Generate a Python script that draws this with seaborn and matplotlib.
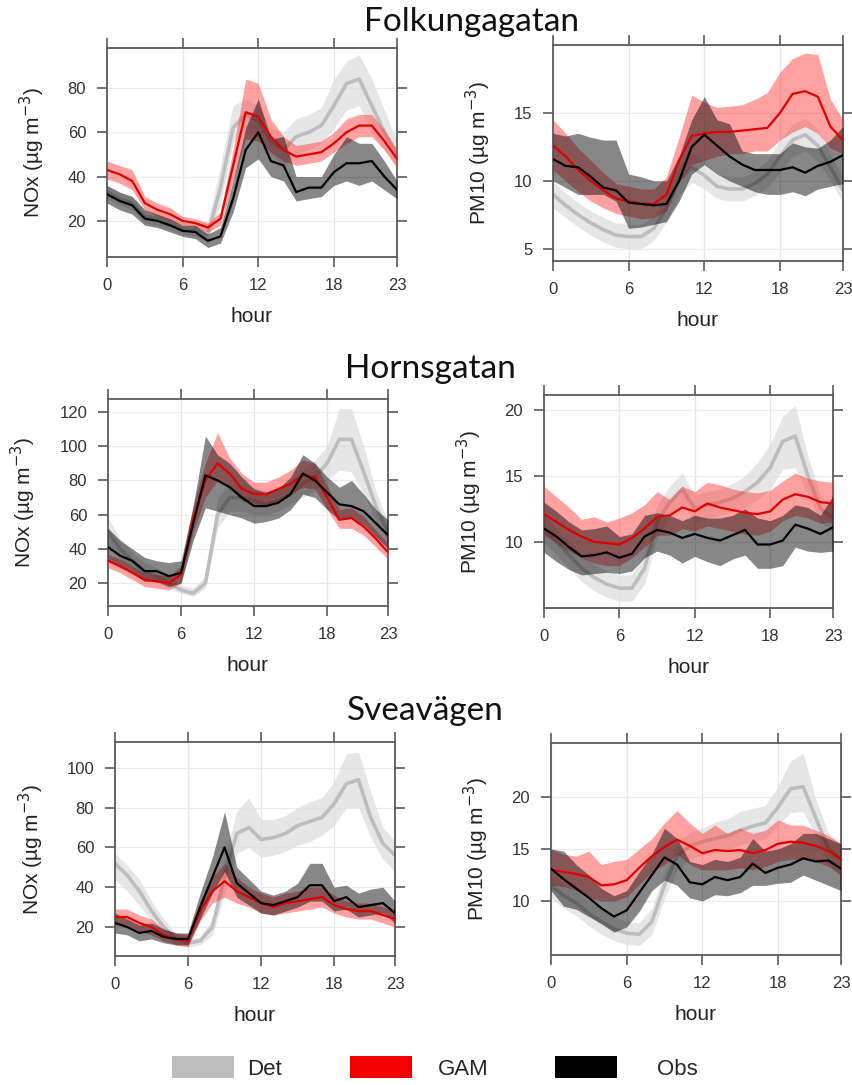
import matplotlib
matplotlib.use("Agg")
import matplotlib.pyplot as plt
from matplotlib.patches import Patch
import seaborn as sns

hours = list(range(24))
xticks = [0, 6, 12, 18, 23]

# ---------------- Folkungagatan NOx ----------------
fk_nox_obs = [32, 29, 27, 21, 20, 18, 15.5, 15, 11, 13, 30, 52, 60, 47, 45, 33, 35, 35, 42, 46, 46, 47, 40, 34]
fk_nox_obs_lo = [28, 25, 23, 18, 17, 15, 13, 12, 8, 10, 24, 44, 48, 40, 38, 29, 30, 31, 36, 38, 36, 38, 34, 30]
fk_nox_obs_hi = [36, 33, 31, 25, 23, 21, 18, 18, 14, 17, 38, 62, 75, 57, 58, 40, 40, 40, 50, 58, 55, 55, 47, 38]
fk_nox_gam = [43, 41, 38, 28, 25, 23, 20, 19, 17, 21, 45, 69, 67, 58, 52, 49, 50, 51, 55, 60, 63, 63, 56, 48]
fk_nox_gam_lo = [39, 37, 34, 25, 22, 20, 18, 17, 15, 18, 38, 57, 56, 51, 47, 45, 46, 47, 51, 55, 58, 58, 52, 44]
fk_nox_gam_hi = [47, 45, 43, 31, 28, 26, 22, 21, 19, 24, 52, 84, 82, 66, 58, 54, 55, 56, 60, 66, 68, 68, 61, 52]
fk_nox_det = [33, 30, 28, 22, 21, 19, 16.5, 16, 14, 35, 62, 68, 65, 56, 52, 58, 60, 63, 72, 82, 84, 72, 60, 50]
fk_nox_det_lo = [30, 27, 25, 19, 18, 16, 14, 13, 11, 28, 55, 62, 58, 50, 45, 50, 52, 55, 62, 70, 72, 60, 52, 44]
fk_nox_det_hi = [36, 33, 31, 25, 24, 22, 19, 19, 20, 45, 72, 75, 72, 62, 60, 66, 68, 71, 84, 92, 95, 84, 70, 56]

# ---------------- Folkungagatan PM10 ----------------
fk_pm_obs = [11.6, 11.1, 11.0, 10.3, 9.5, 9.3, 8.4, 8.3, 8.2, 8.3, 10.0, 12.5, 13.4, 12.6, 11.8, 11.2, 10.8, 10.8, 10.8, 11.0, 10.6, 11.1, 11.4, 11.9]
fk_pm_obs_lo = [10.0, 9.5, 9.0, 9.0, 9.0, 8.5, 6.5, 6.6, 6.8, 7.0, 8.5, 10.5, 11.2, 10.5, 10.0, 9.6, 9.2, 9.0, 9.0, 9.2, 8.9, 9.4, 9.6, 9.8]
fk_pm_obs_hi = [13.5, 13.3, 13.5, 13.2, 13.0, 13.0, 10.5, 10.3, 10.0, 10.0, 11.8, 14.5, 16.2, 14.5, 14.2, 12.2, 12.0, 12.0, 12.0, 12.8, 12.5, 12.4, 13.0, 14.0]
fk_pm_gam = [12.6, 11.8, 10.8, 10.0, 9.3, 8.7, 8.5, 8.3, 8.3, 9.0, 11.5, 13.3, 13.5, 13.6, 13.6, 13.7, 13.8, 13.9, 15.0, 16.4, 16.6, 16.2, 14.0, 13.0]
fk_pm_gam_lo = [10.8, 10.0, 9.2, 8.5, 8.0, 7.6, 7.4, 7.2, 7.3, 7.8, 10.0, 11.2, 11.5, 11.8, 12.0, 12.0, 12.2, 12.2, 13.0, 13.6, 14.0, 13.5, 12.4, 12.0]
fk_pm_gam_hi = [14.5, 13.5, 12.4, 11.5, 10.6, 9.8, 9.6, 9.4, 9.4, 10.3, 13.2, 16.3, 15.8, 15.4, 15.5, 15.6, 16.0, 16.5, 18.0, 19.0, 19.4, 19.3, 16.0, 14.5]
fk_pm_det = [9.0, 8.2, 7.5, 6.9, 6.4, 6.0, 5.9, 5.9, 6.5, 8.0, 10.0, 11.0, 10.4, 9.6, 9.4, 9.4, 9.8, 10.5, 11.8, 13.0, 13.4, 12.6, 11.0, 9.3]
fk_pm_det_lo = [8.0, 7.3, 6.6, 6.0, 5.5, 5.1, 5.0, 5.0, 5.6, 7.0, 8.9, 9.9, 9.4, 8.7, 8.5, 8.5, 8.9, 9.5, 10.6, 11.8, 12.2, 11.4, 10.0, 8.4]
fk_pm_det_hi = [10.0, 9.1, 8.4, 7.8, 7.3, 6.9, 6.8, 6.8, 7.4, 9.0, 11.1, 12.1, 11.4, 10.5, 10.3, 10.3, 10.7, 11.5, 13.0, 14.2, 14.6, 13.8, 12.0, 10.2]

# ---------------- Hornsgatan NOx ----------------
hg_nox_obs = [41, 36, 33, 27, 27, 24, 26, 55, 83, 80, 76, 70, 65, 65, 67, 72, 84, 80, 73, 66, 65, 62, 55, 48]
hg_nox_obs_lo = [33, 29, 26, 21, 21, 18, 20, 45, 64, 62, 60, 58, 55, 56, 58, 63, 72, 70, 63, 57, 58, 54, 47, 40]
hg_nox_obs_hi = [52, 45, 40, 35, 33, 32, 33, 65, 106, 95, 90, 82, 75, 73, 75, 82, 95, 90, 82, 76, 80, 72, 63, 57]
hg_nox_gam = [33, 30, 26, 22, 21, 20, 25, 58, 80, 90, 84, 75, 72, 72, 75, 78, 83, 82, 70, 57, 58, 53, 46, 38]
hg_nox_gam_lo = [29, 26, 22, 18, 17, 16, 20, 50, 70, 80, 76, 68, 66, 66, 68, 72, 76, 75, 63, 52, 52, 48, 41, 34]
hg_nox_gam_hi = [37, 34, 30, 26, 25, 24, 30, 66, 90, 108, 93, 84, 79, 79, 82, 86, 92, 90, 77, 63, 64, 59, 51, 43]
hg_nox_det = [50, 40, 33, 27, 24, 20, 16, 14, 20, 60, 70, 70, 68, 66, 68, 72, 78, 82, 90, 104, 104, 85, 65, 50]
hg_nox_det_lo = [42, 34, 28, 23, 20, 17, 14, 12, 17, 52, 62, 62, 60, 60, 62, 66, 70, 74, 80, 86, 85, 72, 57, 44]
hg_nox_det_hi = [58, 46, 38, 32, 29, 25, 19, 17, 24, 70, 78, 78, 76, 74, 76, 80, 86, 92, 100, 122, 122, 100, 74, 56]

# ---------------- Hornsgatan PM10 ----------------
hg_pm_obs = [11.0, 10.4, 9.6, 8.9, 9.0, 9.2, 8.8, 9.1, 10.4, 10.9, 10.7, 10.3, 10.6, 10.3, 10.1, 10.5, 10.9, 9.8, 9.8, 10.1, 11.3, 11.0, 10.6, 11.1]
hg_pm_obs_lo = [9.2, 8.5, 7.9, 7.5, 7.6, 7.7, 7.6, 7.8, 8.8, 9.3, 9.0, 8.4, 8.9, 8.5, 8.2, 8.7, 9.0, 8.0, 8.0, 8.2, 9.6, 9.3, 9.2, 9.3]
hg_pm_obs_hi = [13.0, 12.3, 11.5, 10.9, 11.0, 11.2, 10.4, 10.6, 12.0, 12.2, 12.0, 11.6, 12.0, 11.8, 11.8, 12.0, 12.5, 11.8, 11.6, 12.0, 12.8, 12.6, 12.0, 13.5]
hg_pm_gam = [12.1, 11.5, 10.9, 10.4, 10.0, 9.9, 9.8, 10.3, 11.0, 11.9, 12.0, 12.6, 12.3, 12.9, 12.6, 12.4, 12.2, 12.1, 12.3, 13.2, 13.6, 13.4, 13.0, 12.9]
hg_pm_gam_lo = [10.5, 9.9, 9.3, 8.8, 8.4, 8.2, 8.2, 8.8, 9.6, 10.5, 10.5, 11.0, 10.8, 11.2, 11.0, 10.8, 10.6, 10.5, 10.8, 11.6, 12.0, 11.8, 11.4, 11.5]
hg_pm_gam_hi = [14.2, 13.4, 12.6, 11.7, 11.9, 11.5, 11.8, 12.2, 12.8, 13.8, 13.2, 14.2, 13.8, 14.5, 14.3, 14.0, 13.8, 13.7, 13.9, 14.6, 15.2, 14.8, 14.6, 14.5]
hg_pm_det = [11.0, 10.0, 9.0, 8.0, 7.3, 6.8, 6.5, 6.5, 8.0, 11.5, 13.0, 14.0, 12.5, 12.8, 13.0, 13.3, 13.8, 14.5, 15.6, 17.6, 18.0, 15.0, 12.5, 11.8]
hg_pm_det_lo = [10.0, 9.0, 8.0, 7.0, 6.3, 5.8, 5.5, 5.5, 6.8, 10.3, 12.0, 12.8, 11.5, 11.8, 12.0, 12.3, 12.6, 13.2, 14.0, 15.5, 15.6, 13.5, 11.5, 10.8]
hg_pm_det_hi = [12.0, 11.0, 10.0, 9.0, 8.3, 7.8, 7.5, 7.5, 9.2, 12.8, 14.2, 15.2, 13.5, 13.8, 14.0, 14.4, 15.0, 16.0, 17.4, 19.5, 20.3, 16.5, 13.5, 12.8]

# ---------------- Sveavägen NOx ----------------
sv_nox_obs = [22, 20, 17, 18, 15, 14, 14, 30, 45, 60, 42, 37, 32, 31, 33, 35, 41, 41, 33, 35, 30, 31, 32, 27]
sv_nox_obs_lo = [17, 16, 13, 14, 12, 11, 11, 24, 37, 48, 35, 31, 27, 26, 28, 30, 33, 33, 28, 29, 25, 26, 27, 22]
sv_nox_obs_hi = [27, 24, 21, 22, 19, 17, 17, 37, 55, 78, 50, 44, 38, 36, 38, 42, 52, 52, 40, 41, 37, 39, 40, 33]
sv_nox_gam = [25, 25, 22, 20, 16, 14, 13, 28, 38, 43, 38, 35, 32, 30, 32, 33, 34, 35, 31, 29, 28, 28, 26, 24]
sv_nox_gam_lo = [21, 21, 18, 16, 13, 11, 10, 23, 32, 35, 32, 30, 27, 26, 27, 28, 29, 30, 27, 25, 24, 24, 22, 20]
sv_nox_gam_hi = [29, 29, 26, 24, 19, 17, 16, 33, 45, 52, 45, 40, 37, 35, 37, 38, 40, 40, 36, 33, 32, 32, 30, 28]
sv_nox_det = [52, 46, 38, 28, 20, 14, 12, 13, 20, 45, 67, 70, 64, 65, 67, 71, 73, 75, 82, 92, 94, 75, 62, 56]
sv_nox_det_lo = [44, 38, 31, 23, 16, 11, 10, 11, 16, 36, 57, 60, 55, 56, 58, 61, 63, 66, 71, 80, 80, 65, 54, 48]
sv_nox_det_hi = [57, 51, 44, 33, 24, 17, 14, 15, 24, 55, 78, 85, 74, 74, 76, 80, 83, 85, 93, 107, 108, 88, 70, 63]

# ---------------- Sveavägen PM10 ----------------
sv_pm_obs = [13.1, 12.1, 11.2, 10.3, 9.3, 8.5, 9.1, 10.8, 12.5, 14.2, 13.5, 11.8, 11.6, 12.3, 12.0, 12.3, 13.6, 12.7, 13.2, 13.5, 14.1, 13.8, 13.9, 13.1]
sv_pm_obs_lo = [11.0, 9.5, 9.2, 8.5, 7.8, 7.0, 7.5, 9.0, 11.0, 12.0, 11.5, 10.3, 10.0, 10.6, 10.5, 10.8, 11.5, 11.5, 11.7, 11.8, 12.5, 12.0, 11.5, 11.0]
sv_pm_obs_hi = [15.0, 14.8, 13.5, 12.5, 11.2, 10.5, 11.0, 12.8, 14.5, 17.0, 16.0, 13.8, 13.5, 14.0, 13.8, 14.2, 16.0, 14.8, 15.0, 15.5, 16.5, 16.5, 16.0, 15.5]
sv_pm_gam = [13.0, 12.8, 12.6, 12.3, 11.5, 11.6, 12.0, 13.2, 14.3, 15.2, 15.9, 15.3, 14.6, 14.9, 14.8, 14.9, 14.6, 14.9, 15.5, 15.7, 15.6, 15.3, 14.8, 14.1]
sv_pm_gam_lo = [11.5, 11.4, 11.0, 10.3, 10.0, 10.0, 10.4, 11.6, 12.8, 13.5, 14.5, 13.5, 13.0, 13.0, 13.0, 13.2, 13.0, 13.3, 13.8, 14.0, 14.0, 13.8, 13.3, 12.5]
sv_pm_gam_hi = [15.0, 14.5, 14.3, 14.8, 13.5, 13.8, 14.0, 15.0, 16.0, 17.5, 18.7, 17.5, 16.5, 17.3, 16.5, 17.0, 16.5, 16.8, 17.8, 17.3, 17.3, 16.8, 16.3, 15.5]
sv_pm_det = [11.5, 10.5, 9.8, 8.8, 8.0, 7.3, 6.9, 6.8, 8.0, 11.5, 14.3, 15.3, 15.7, 16.0, 16.3, 16.8, 17.2, 17.5, 19.0, 20.8, 21.0, 18.0, 15.0, 14.0]
sv_pm_det_lo = [10.3, 9.3, 8.6, 7.6, 6.8, 6.2, 5.8, 5.7, 6.8, 10.2, 13.0, 14.0, 14.4, 14.7, 15.0, 15.4, 15.7, 16.0, 17.3, 18.5, 18.6, 16.3, 13.5, 12.5]
sv_pm_det_hi = [12.7, 11.7, 11.0, 10.0, 9.2, 8.5, 8.0, 7.9, 9.3, 12.8, 15.6, 16.6, 17.0, 17.6, 17.9, 18.6, 18.9, 19.2, 21.0, 23.5, 24.2, 19.8, 16.5, 15.5]

site_titles = ["Folkungagatan", "Hornsgatan", "Sveavägen"]
legend_labels = ["Det", "GAM", "Obs"]

panels = [
    dict(pos=(107, 48, 397, 257), ylim=(3.7, 98), yticks=[20, 40, 60, 80], ylabel="NOx",
         det=(fk_nox_det, fk_nox_det_lo, fk_nox_det_hi), gam=(fk_nox_gam, fk_nox_gam_lo, fk_nox_gam_hi),
         obs=(fk_nox_obs, fk_nox_obs_lo, fk_nox_obs_hi)),
    dict(pos=(553, 45, 843, 261), ylim=(4.1, 20), yticks=[5, 10, 15], ylabel="PM10",
         det=(fk_pm_det, fk_pm_det_lo, fk_pm_det_hi), gam=(fk_pm_gam, fk_pm_gam_lo, fk_pm_gam_hi),
         obs=(fk_pm_obs, fk_pm_obs_lo, fk_pm_obs_hi)),
    dict(pos=(108, 399, 388, 606), ylim=(6.6, 127.6), yticks=[20, 40, 60, 80, 100, 120], ylabel="NOx",
         det=(hg_nox_det, hg_nox_det_lo, hg_nox_det_hi), gam=(hg_nox_gam, hg_nox_gam_lo, hg_nox_gam_hi),
         obs=(hg_nox_obs, hg_nox_obs_lo, hg_nox_obs_hi)),
    dict(pos=(544, 395, 833, 608), ylim=(5.0, 21.1), yticks=[10, 15, 20], ylabel="PM10",
         det=(hg_pm_det, hg_pm_det_lo, hg_pm_det_hi), gam=(hg_pm_gam, hg_pm_gam_lo, hg_pm_gam_hi),
         obs=(hg_pm_obs, hg_pm_obs_lo, hg_pm_obs_hi)),
    dict(pos=(115, 742, 395, 956), ylim=(5.4, 113), yticks=[20, 40, 60, 80, 100], ylabel="NOx",
         det=(sv_nox_det, sv_nox_det_lo, sv_nox_det_hi), gam=(sv_nox_gam, sv_nox_gam_lo, sv_nox_gam_hi),
         obs=(sv_nox_obs, sv_nox_obs_lo, sv_nox_obs_hi)),
    dict(pos=(551, 743, 841, 955), ylim=(4.8, 25.2), yticks=[10, 15, 20], ylabel="PM10",
         det=(sv_pm_det, sv_pm_det_lo, sv_pm_det_hi), gam=(sv_pm_gam, sv_pm_gam_lo, sv_pm_gam_hi),
         obs=(sv_pm_obs, sv_pm_obs_lo, sv_pm_obs_hi)),
]

sns.set_style("white")
plt.rcParams["font.family"] = ["Liberation Sans", "DejaVu Sans"]

W, H = 853, 1085
fig = plt.figure(figsize=(W / 100, H / 100), dpi=100)

det_line, det_band = "#BDBDBD", "#DEDEDE"
gam_line, gam_band = "#E00000", "#FF3030"
obs_line, obs_band = "#000000", "#000000"
frame_c = "#5A5A5A"

for p in panels:
    l, t, r, b = p["pos"]
    ax = fig.add_axes([l / W, 1 - b / H, (r - l) / W, (b - t) / H])
    ax.set_axisbelow(True)
    for v in xticks:
        ax.axvline(v, color="#E6E6E6", lw=0.9, zorder=0)
    for v in p["yticks"]:
        ax.axhline(v, color="#EBEBEB", lw=0.9, zorder=0)

    m, lo, hi = p["det"]
    ax.fill_between(hours, lo, hi, color=det_band, alpha=0.75, lw=0, zorder=1)
    sns.lineplot(x=hours, y=m, ax=ax, color=det_line, lw=2.6, zorder=2)
    m, lo, hi = p["gam"]
    ax.fill_between(hours, lo, hi, color=gam_band, alpha=0.45, lw=0, zorder=3)
    gm = m
    m, lo, hi = p["obs"]
    ax.fill_between(hours, lo, hi, color=obs_band, alpha=0.47, lw=0, zorder=4)
    sns.lineplot(x=hours, y=gm, ax=ax, color=gam_line, lw=1.6, zorder=5)
    sns.lineplot(x=hours, y=m, ax=ax, color=obs_line, lw=1.6, zorder=6)

    ax.set_xlim(0, 23)
    ax.set_ylim(*p["ylim"])
    ax.set_xticks(xticks)
    ax.set_yticks(p["yticks"])
    ax.tick_params(axis="both", which="both", direction="out", length=7, width=1.2,
                   color=frame_c, labelsize=12, labelcolor="#333333",
                   top=True, right=True, bottom=True, left=True, pad=8)
    for s in ax.spines.values():
        s.set_visible(True)
        s.set_color(frame_c)
        s.set_linewidth(1.3)
    ax.set_xlabel("hour", fontsize=15, color="#222222", labelpad=10)
    ax.set_ylabel(p["ylabel"] + " (µg m$^{-3}$)", fontsize=15, color="#222222", labelpad=15)
    ax.grid(False)

title_pos = [(472, 22), (430, 369), (425, 711)]
for name, (x, y) in zip(site_titles, title_pos):
    fig.text(x / W, 1 - y / H, name, ha="center", va="center", fontsize=24,
             family=["Lato", "DejaVu Sans"], color="#111111")

legend_colors = ["#BDBDBD", "#F00000", "#000000"]
legend_x = [172, 350, 555]
legend_pad = [0.6, 1.15, 1.8]
for lab, col, x, pad in zip(legend_labels, legend_colors, legend_x, legend_pad):
    fig.legend([Patch(facecolor=col, edgecolor="none")], [lab], loc="center left",
               bbox_to_anchor=(x / W, 1 - 1068 / H), frameon=False, fontsize=16,
               handlelength=2.8, handleheight=1.1, handletextpad=pad,
               borderpad=0, borderaxespad=0)

fig.savefig("out.png", dpi=100)
